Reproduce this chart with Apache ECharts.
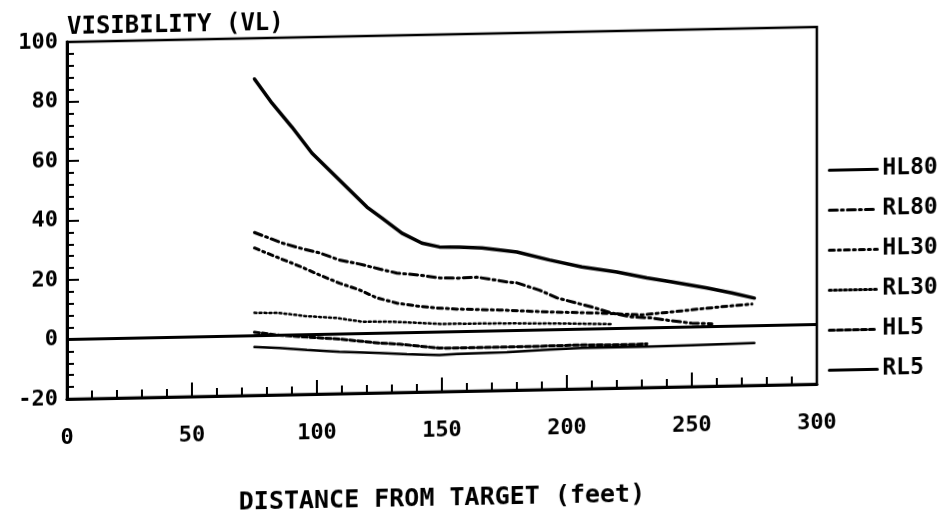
<!DOCTYPE html>
<html>
<head>
<meta charset="utf-8">
<script src="https://cdn.jsdelivr.net/npm/echarts@6/dist/echarts.min.js"></script>
<style>
html, body { margin: 0; padding: 0; background: #fff; overflow: hidden; width: 949px; height: 511px; }
#chart { width: 949px; height: 540px; transform: skewY(-1.146deg); transform-origin: 67px 0; }
</style>
</head>
<body>
<div id="chart"></div>
<script>
// ---- data ----
const seriesNames = ['HL80', 'RL80', 'HL30', 'RL30', 'HL5', 'RL5'];

const hl80Dist = [75, 82, 90, 98, 109, 120, 126, 134, 142, 149, 157, 166, 180, 193, 206, 220, 232, 242, 256, 266, 275];
const hl80Vis  = [86.3, 78.1, 69.9, 61.0, 51.8, 42.5, 38.7, 33.5, 30.0, 28.6, 28.4, 28.0, 26.4, 23.5, 20.9, 19.0, 16.8, 15.3, 13.0, 11.2, 9.3];

const rl80Dist = [75, 86, 93, 101, 109, 117, 125, 132, 141, 149, 156, 164, 176, 180, 189, 196, 204, 210, 218, 226, 234, 242, 250, 258];
const rl80Vis  = [34.7, 31.0, 29.2, 27.4, 24.9, 23.4, 21.6, 20.1, 19.3, 18.2, 18.0, 18.2, 16.4, 16.0, 13.4, 10.7, 8.8, 7.4, 5.2, 3.8, 3.3, 2.2, 1.3, 0.9];

const hl30Dist = [75, 85, 93, 101, 109, 117, 124, 132, 140, 148, 156, 173, 193, 213, 230, 242, 253, 265, 274];
const hl30Vis  = [29.5, 25.9, 23.1, 20.0, 17.1, 14.7, 11.9, 10.0, 8.9, 8.1, 7.6, 7.0, 6.0, 5.3, 4.4, 5.2, 6.0, 6.8, 7.3];

const rl30Dist = [75, 85, 95, 108, 118, 130, 150, 165, 180, 200, 218];
const rl30Vis  = [7.7, 7.5, 6.3, 5.4, 4.0, 3.8, 2.7, 2.6, 2.4, 2.0, 1.5];

const hl5Dist = [75, 85, 96, 109, 117, 125, 133, 141, 149, 160, 180, 193, 206, 220, 232];
const hl5Vis  = [1.2, 0.0, -0.8, -1.7, -2.5, -3.3, -3.8, -4.6, -5.4, -5.5, -5.5, -5.4, -5.3, -5.5, -5.4];

const rl5Dist = [75, 85, 96, 109, 125, 136, 149, 156, 176, 193, 206, 220, 232, 250, 275];
const rl5Vis  = [-3.8, -4.3, -5.1, -6.0, -6.6, -7.2, -7.7, -7.5, -7.2, -6.6, -6.3, -6.2, -6.3, -6.1, -5.8];

const yTicks = [-20, 0, 20, 40, 60, 80, 100];
const xTicks = [0, 50, 100, 150, 200, 250, 300];

const yTitle = 'VISIBILITY (VL)';
const xTitle = 'DISTANCE FROM TARGET (feet)';

// ---- chart ----
const pair = (xs, ys) => xs.map((x, i) => [x, ys[i]]);
const FONT = '"DejaVu Sans Mono", monospace';

const styles = [
  { type: 'solid', width: 3.5 },
  { type: [8, 4, 2, 4], width: 3 },
  { type: [5, 4, 2, 4], width: 3 },
  { type: [2, 3], width: 2.5 },
  { type: [5, 3], width: 3 },
  { type: 'solid', width: 2.5 }
];
const dataSets = [
  pair(hl80Dist, hl80Vis),
  pair(rl80Dist, rl80Vis),
  pair(hl30Dist, hl30Vis),
  pair(rl30Dist, rl30Vis),
  pair(hl5Dist, hl5Vis),
  pair(rl5Dist, rl5Vis)
];

const series = seriesNames.map((name, i) => ({
  name: name,
  type: 'line',
  data: dataSets[i],
  symbol: 'none',
  showSymbol: false,
  smooth: false,
  animation: false,
  lineStyle: { color: '#000', type: styles[i].type, width: styles[i].width, cap: 'round' },
  itemStyle: { color: '#000' },
  z: 3
}));
series[0].markLine = {
  silent: true,
  symbol: ['none', 'none'],
  label: { show: false },
  lineStyle: { color: '#000', type: 'solid', width: 3 },
  data: [{ yAxis: 0 }],
  animation: false
};

const chart = echarts.init(document.getElementById('chart'), null, { renderer: 'canvas' });
chart.setOption({
  backgroundColor: '#fff',
  animation: false,
  title: {
    text: yTitle,
    left: 62,
    top: 11,
    textStyle: { fontFamily: FONT, fontSize: 24, fontWeight: 'bold', color: '#000' }
  },
  grid: {
    left: 67, right: 132, top: 42, height: 357,
    show: true, borderColor: '#000', borderWidth: 2.5, backgroundColor: 'transparent'
  },
  legend: {
    orient: 'vertical',
    left: 823,
    top: 168,
    itemWidth: 48,
    itemHeight: 25,
    itemGap: 15,
    itemStyle: { color: 'transparent', borderWidth: 0, opacity: 0 },
    lineStyle: { width: 3 },
    textStyle: { fontFamily: FONT, fontSize: 23, fontWeight: 'bold', color: '#000', lineHeight: 25 },
    data: seriesNames
  },
  xAxis: {
    type: 'value',
    min: 0, max: 300, interval: 50,
    name: xTitle,
    nameLocation: 'middle',
    nameGap: 95,
    nameTextStyle: { fontFamily: FONT, fontSize: 25, fontWeight: 'bold', color: '#000' },
    axisLine: { onZero: false, lineStyle: { color: '#000', width: 3 } },
    axisTick: { inside: true, length: 14, lineStyle: { color: '#000', width: 2 } },
    minorTick: { show: true, splitNumber: 5, length: 8, lineStyle: { color: '#000', width: 2 } },
    splitLine: { show: false },
    axisLabel: {
      margin: 28, fontFamily: FONT, fontSize: 22, fontWeight: 'bold', color: '#000',
      formatter: v => xTicks.includes(v) ? String(v) : ''
    }
  },
  yAxis: {
    type: 'value',
    min: -20, max: 100, interval: 20,
    axisLine: { onZero: false, lineStyle: { color: '#000', width: 3 } },
    axisTick: { inside: true, length: 12, lineStyle: { color: '#000', width: 2 } },
    minorTick: { show: true, splitNumber: 5, length: 7, lineStyle: { color: '#000', width: 2 } },
    splitLine: { show: false },
    axisLabel: {
      margin: 9, fontFamily: FONT, fontSize: 22, fontWeight: 'bold', color: '#000',
      formatter: v => yTicks.includes(v) ? String(v) : ''
    }
  },
  series: series
});
</script>
</body>
</html>
